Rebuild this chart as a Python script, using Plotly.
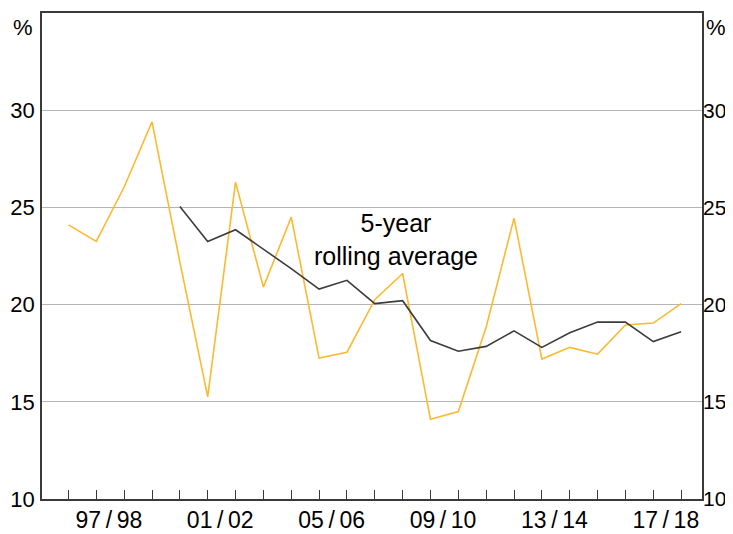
import plotly.graph_objects as go

# financial years, plotted at year end (June)
fy_end = list(range(1996, 2019))
ratio = [24.1, 23.25, 26.05, 29.4, 22.2, 15.25, 26.3, 20.9, 24.5, 17.25, 17.55,
         20.25, 21.6, 14.1, 14.5, 18.85, 24.45, 17.2, 17.8, 17.45, 18.95, 19.05, 20.05]
rolling_avg = [None, None, None, None, 25.05, 23.25, 23.85, 22.85, 21.85, 20.8, 21.25,
               20.05, 20.2, 18.15, 17.6, 17.85, 18.65, 17.8, 18.55, 19.1, 19.1, 18.1, 18.6]

label_pos = [1997.45, 2001.45, 2005.45, 2009.45, 2013.45, 2017.45]
label_text = ["97\u2009/\u200998", "01\u2009/\u200902", "05\u2009/\u200906",
              "09\u2009/\u200910", "13\u2009/\u200914", "17\u2009/\u200918"]

y_ticks = [10, 15, 20, 25, 30]

font = "Liberation Sans, Arial, sans-serif"
frame = "#3a3a3a"

fig = go.Figure()
fig.add_trace(go.Scatter(x=fy_end, y=ratio, mode="lines",
                         line=dict(color="#fdb930", width=1.6)))
fig.add_trace(go.Scatter(x=fy_end, y=rolling_avg, mode="lines", yaxis="y2",
                         line=dict(color="#3c3c3c", width=1.6)))

fig.add_annotation(x=2007.75, y=23.35, text="5-year<br>rolling average",
                   showarrow=False, font=dict(size=25, color="black", family=font))

# unit labels at the top of both axes
fig.add_annotation(x=0, y=1, xref="paper", yref="paper", text="%", showarrow=False,
                   xanchor="right", yanchor="top", xshift=-7, yshift=0,
                   font=dict(size=22, color="black", family=font))
fig.add_annotation(x=1, y=1, xref="paper", yref="paper", text="%", showarrow=False,
                   xanchor="left", yanchor="top", xshift=2, yshift=0,
                   font=dict(size=22, color="black", family=font))

# the page body adds an 8px margin, so the figure is a bit smaller than the window
fig.update_layout(
    width=725, height=526,
    margin=dict(l=34, r=31, t=5, b=35),
    paper_bgcolor="white", plot_bgcolor="white",
    showlegend=False,
    font=dict(family=font, size=22, color="black"),
    xaxis=dict(range=[1995.05, 2018.75], tickmode="array", tickvals=label_pos,
               ticktext=label_text, ticks="", showgrid=False, zeroline=False,
               showline=True, linecolor=frame, linewidth=1.5, mirror=True,
               automargin=False, tickfont=dict(size=23),
               minor=dict(tickmode="array", tickvals=fy_end, ticks="inside",
                          ticklen=9, tickcolor=frame, tickwidth=1.2, showgrid=False)),
    yaxis=dict(range=[10, 35], tickmode="array", tickvals=y_ticks, ticks="",
               showgrid=True, gridcolor="#b5b5b5", gridwidth=1, zeroline=False,
               showline=True, linecolor=frame, linewidth=1.5, mirror=True,
               automargin=False, ticklabelstandoff=1),
    yaxis2=dict(range=[10, 35], tickmode="array", tickvals=y_ticks, ticks="",
                overlaying="y", side="right", showgrid=False, zeroline=False,
                showline=False, automargin=False, ticklabelstandoff=0,
                tickfont=dict(size=21)),
)

fig.write_html("out.html")
